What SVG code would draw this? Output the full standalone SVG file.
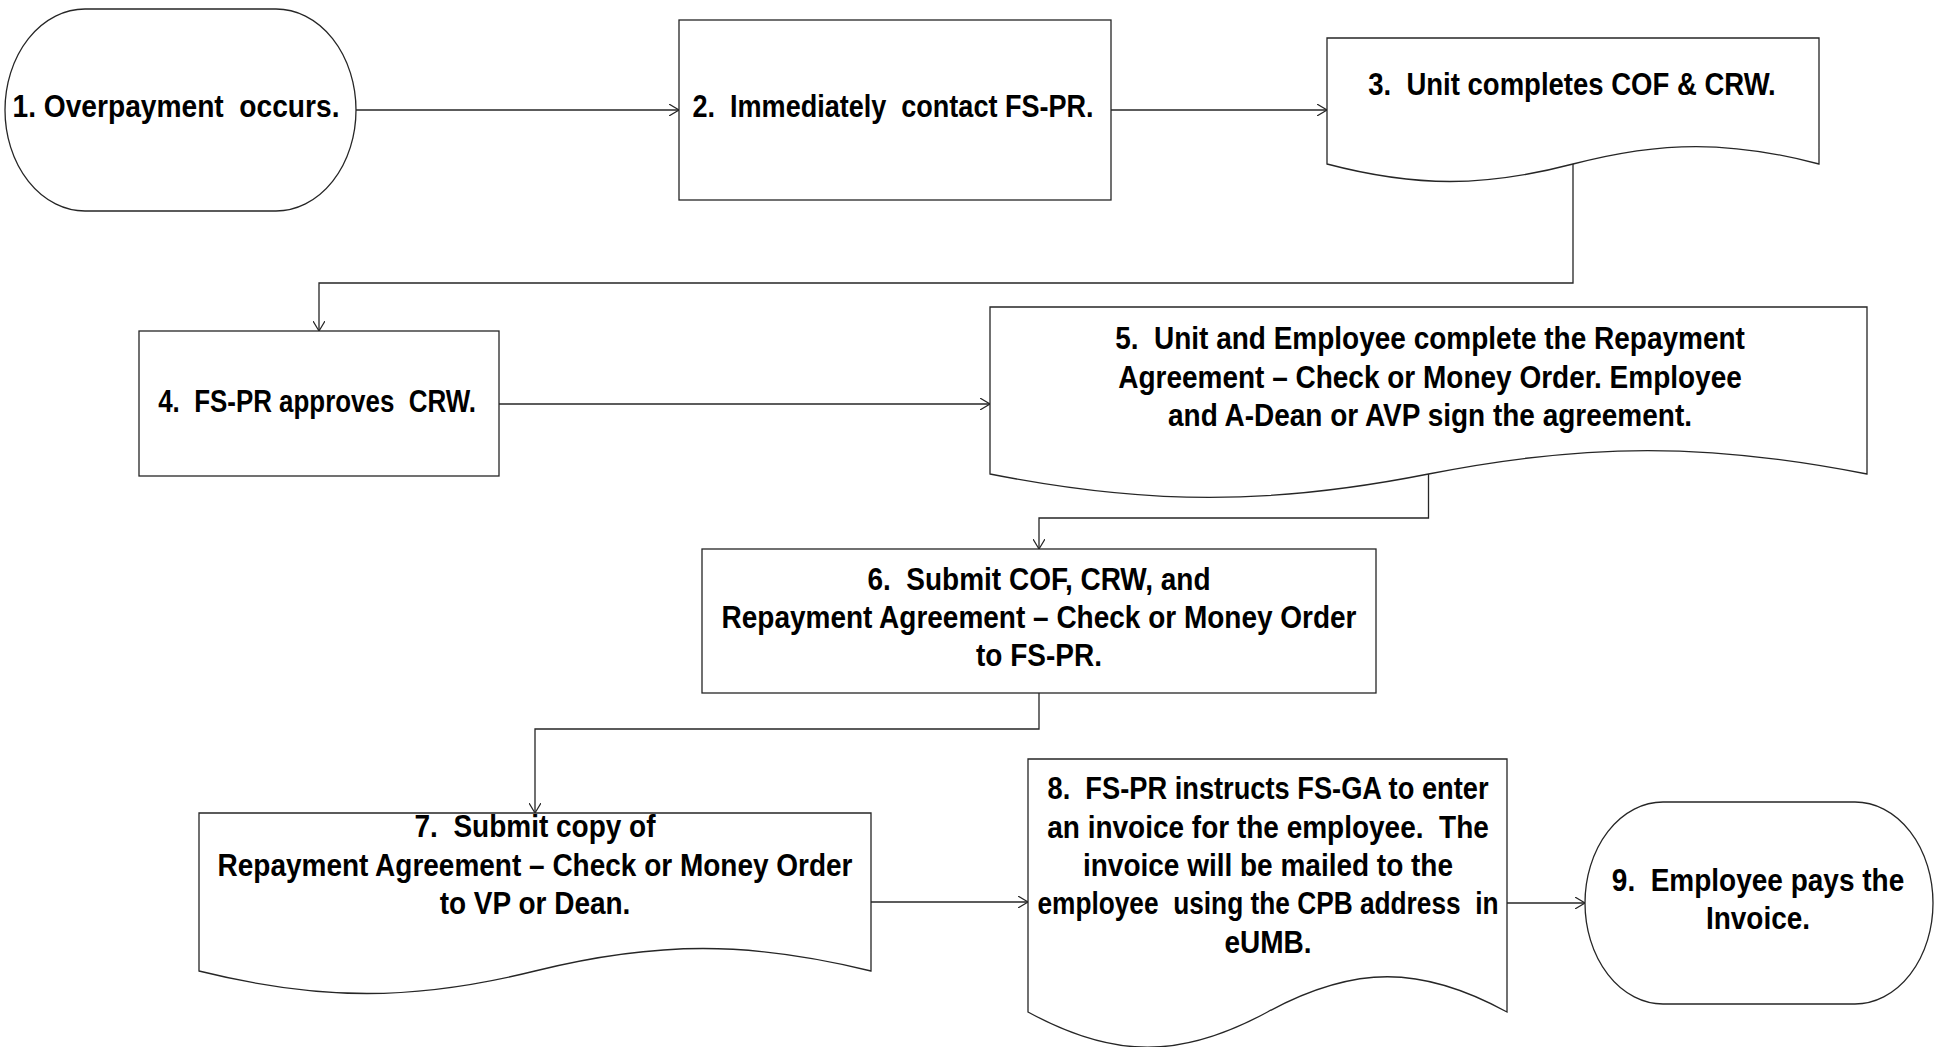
<svg xmlns="http://www.w3.org/2000/svg" width="1936" height="1047" viewBox="0 0 1936 1047">
  <style>
    .shape { fill: #ffffff; stroke: #262626; stroke-width: 1.3; }
    .wire { fill: none; stroke: #262626; stroke-width: 1.3; }
    .label { font-family: "Liberation Sans", Arial, Helvetica, sans-serif; font-weight: bold; font-size: 32px; fill: #000000; text-anchor: middle; white-space: pre; }
  </style>
  <defs>
    <marker id="open-arrow" viewBox="0 0 10 12" refX="10" refY="6" markerWidth="10" markerHeight="12" markerUnits="userSpaceOnUse" orient="auto">
      <path d="M0,0 L10,6 L0,12" fill="none" stroke="#262626" stroke-width="1.2"/>
    </marker>
  </defs>

  <rect width="1936" height="1047" fill="#ffffff"/>

  <!-- connectors -->
  <g id="connectors">
    <path class="wire" d="M356,110 H679" marker-end="url(#open-arrow)"/>
    <path class="wire" d="M1111,110 H1327" marker-end="url(#open-arrow)"/>
    <path class="wire" d="M1573,164 V283 H319 V331" marker-end="url(#open-arrow)"/>
    <path class="wire" d="M499,404 H990" marker-end="url(#open-arrow)"/>
    <path class="wire" d="M1428.5,474 V518 H1039 V549" marker-end="url(#open-arrow)"/>
    <path class="wire" d="M1039,693 V729 H535 V813" marker-end="url(#open-arrow)"/>
    <path class="wire" d="M871,902 H1028" marker-end="url(#open-arrow)"/>
    <path class="wire" d="M1507,903 H1585" marker-end="url(#open-arrow)"/>
  </g>

  <!-- 1: start terminator -->
  <g id="step1">
    <rect class="shape" x="5" y="9" width="351" height="202" rx="80" ry="101"/>
    <text class="label" transform="matrix(0.88 0 0 1 176 0)"><tspan x="0" y="117">1. Overpayment  occurs.</tspan></text>
  </g>

  <!-- 2: process -->
  <g id="step2">
    <rect class="shape" x="679" y="20" width="432" height="180"/>
    <text class="label" transform="matrix(0.845 0 0 1 893 0)"><tspan x="0" y="117">2.  Immediately  contact FS-PR.</tspan></text>
  </g>

  <!-- 3: document -->
  <g id="step3">
    <path class="shape" d="M1327,38 H1819 V164 C1730.4,140.7 1661.6,140.7 1573,164 C1484.4,187.3 1415.6,187.3 1327,164 Z"/>
    <text class="label" transform="matrix(0.86 0 0 1 1572 0)"><tspan x="0" y="95">3.  Unit completes COF &amp; CRW.</tspan></text>
  </g>

  <!-- 4: process -->
  <g id="step4">
    <rect class="shape" x="139" y="331" width="360" height="145"/>
    <text class="label" transform="matrix(0.81 0 0 1 317 0)"><tspan x="0" y="412">4.  FS-PR approves  CRW.</tspan></text>
  </g>

  <!-- 5: document -->
  <g id="step5">
    <path class="shape" d="M990,307 H1867 V474 C1709.1,442.7 1586.4,442.7 1428.5,474 C1270.6,505.3 1147.9,505.3 990,474 Z"/>
    <text class="label" transform="matrix(0.875 0 0 1 1430 0)"><tspan x="0" y="349">5.  Unit and Employee complete the Repayment</tspan><tspan x="0" y="388">Agreement – Check or Money Order. Employee</tspan><tspan x="0" y="426">and A-Dean or AVP sign the agreement.</tspan></text>
  </g>

  <!-- 6: process -->
  <g id="step6">
    <rect class="shape" x="702" y="549" width="674" height="144"/>
    <text class="label" transform="matrix(0.875 0 0 1 1039 0)"><tspan x="0" y="590">6.  Submit COF, CRW, and</tspan><tspan x="0" y="628">Repayment Agreement – Check or Money Order</tspan><tspan x="0" y="666">to FS-PR.</tspan></text>
  </g>

  <!-- 7: document -->
  <g id="step7">
    <path class="shape" d="M199,813 H871 V971 C750,941 656,941 535,971 C414,1001 320,1001 199,971 Z"/>
    <text class="label" transform="matrix(0.875 0 0 1 535 0)"><tspan x="0" y="837">7.  Submit copy of</tspan><tspan x="0" y="876">Repayment Agreement – Check or Money Order</tspan><tspan x="0" y="914">to VP or Dean.</tspan></text>
  </g>

  <!-- 8: document -->
  <g id="step8">
    <path class="shape" d="M1028,759 H1507 V1012 C1421,965 1354,965 1267.5,1012 C1181,1059 1114,1059 1028,1012 Z"/>
    <text class="label" transform="matrix(0.875 0 0 1 1268 0)"><tspan x="0" y="799" textLength="504" lengthAdjust="spacingAndGlyphs">8.  FS-PR instructs FS-GA to enter</tspan><tspan x="0" y="838">an invoice for the employee.  The</tspan><tspan x="0" y="876">invoice will be mailed to the</tspan><tspan x="0" y="914" textLength="527" lengthAdjust="spacingAndGlyphs">employee  using the CPB address  in</tspan><tspan x="0" y="953">eUMB.</tspan></text>
  </g>

  <!-- 9: end terminator -->
  <g id="step9">
    <rect class="shape" x="1585" y="802" width="348" height="202" rx="78" ry="101"/>
    <text class="label" transform="matrix(0.875 0 0 1 1758 0)"><tspan x="0" y="891">9.  Employee pays the</tspan><tspan x="0" y="929">Invoice.</tspan></text>
  </g>
</svg>
